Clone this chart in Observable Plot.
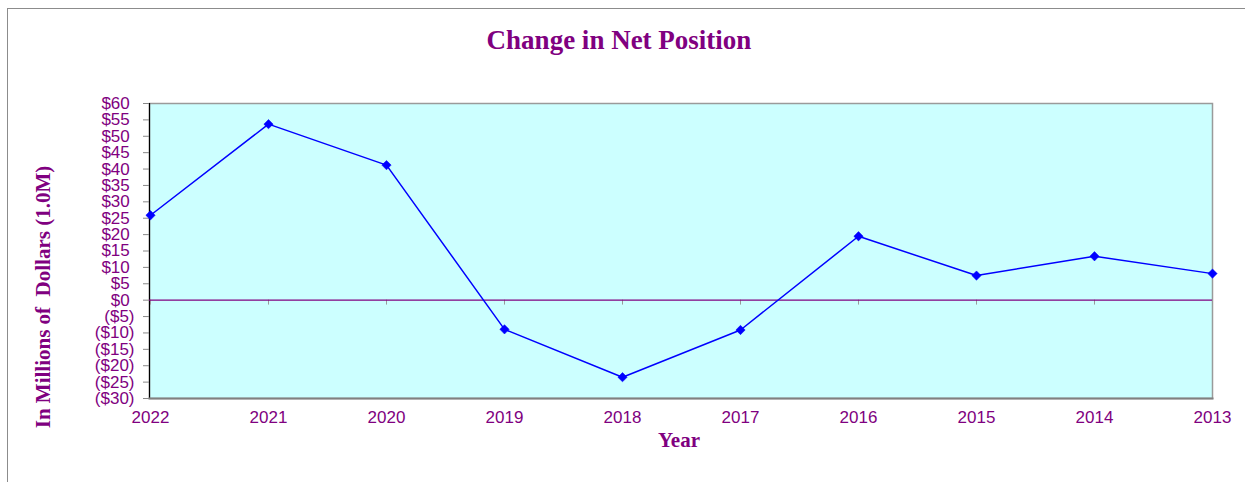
<!DOCTYPE html>
<html>
<head>
<meta charset="utf-8">
<script src="https://cdn.jsdelivr.net/npm/d3@7"></script>
<script src="https://cdn.jsdelivr.net/npm/@observablehq/plot@0.6"></script>
<style>
  html, body { margin: 0; padding: 0; background: #fff; overflow: hidden; }
  #wrap { position: relative; width: 1245px; height: 482px; }
  #border { position: absolute; left: 7px; top: 8px; width: 1400px; height: 600px; border: 1px solid #8c8c8c; box-sizing: border-box; }
  .lbl { position: absolute; font-family: "Liberation Serif", "Times New Roman", serif; font-weight: bold; color: #800080; white-space: nowrap; }
  #title { left: 0; width: 1238px; top: 27px; text-align: center; font-size: 27px; line-height: 27px; }
  #xlab { left: 579px; width: 200px; top: 430px; text-align: center; font-size: 21px; line-height: 21px; }
  #ylab { left: -157px; top: 285px; width: 400px; height: 24px; line-height: 24px; text-align: center; font-size: 21px; transform: rotate(-90deg); transform-origin: 200px 12px; }
</style>
</head>
<body>
<div id="wrap">
  <div id="border"></div>
  <div id="chart"></div>
  <div class="lbl" id="title">Change in Net Position</div>
  <div class="lbl" id="xlab">Year</div>
  <div class="lbl" id="ylab">In Millions of&nbsp; Dollars (1.0M)</div>
</div>
<script>
const years = ["2022", "2021", "2020", "2019", "2018", "2017", "2016", "2015", "2014", "2013"];
const values = [25.9, 53.7, 41.2, -8.9, -23.5, -9.1, 19.5, 7.5, 13.4, 8.1];
const yTicks = d3.range(-30, 61, 5);

const data = years.map((y, i) => ({year: y, value: values[i]}));
const purple = "#800080";

const fmt = v => v < 0 ? `($${-v})` : `$${v}\u2008`;

const chart = Plot.plot({
  width: 1245,
  height: 482,
  marginLeft: 149,
  marginRight: 33,
  marginTop: 103,
  marginBottom: 84,
  style: {fontFamily: "Liberation Sans, Arial, sans-serif", fontSize: "17px", background: "transparent", overflow: "visible"},
  x: {type: "point", domain: years, padding: 0},
  y: {domain: [-30, 60]},
  marks: [
    Plot.frame({fill: "#CCFFFF", stroke: "#9a9a9a", strokeWidth: 1.5}),
    Plot.frame({anchor: "left", stroke: "#000", strokeWidth: 1.2}),
    Plot.frame({anchor: "bottom", stroke: "#808080", strokeWidth: 2}),
    Plot.axisY({ticks: yTicks, tickFormat: fmt, tickSize: 6, tickPadding: 9, stroke: "#888", fill: purple, label: null}),
    Plot.axisX({tickSize: 0, tickPadding: 12, fill: purple, label: null}),
    Plot.ruleX(years, {x: d => d, y1: 0, y2: -1.5, stroke: "#999", strokeWidth: 1}),
    Plot.ruleY([0], {stroke: purple, strokeWidth: 1.3}),
    Plot.line(data, {x: "year", y: "value", stroke: "#0000FF", strokeWidth: 1.5}),
    Plot.dot(data, {x: "year", y: "value", symbol: "diamond2", r: 4.2, fill: "#0000FF", stroke: "#0000FF", strokeWidth: 0.5})
  ]
});
document.getElementById("chart").appendChild(chart);
</script>
</body>
</html>
